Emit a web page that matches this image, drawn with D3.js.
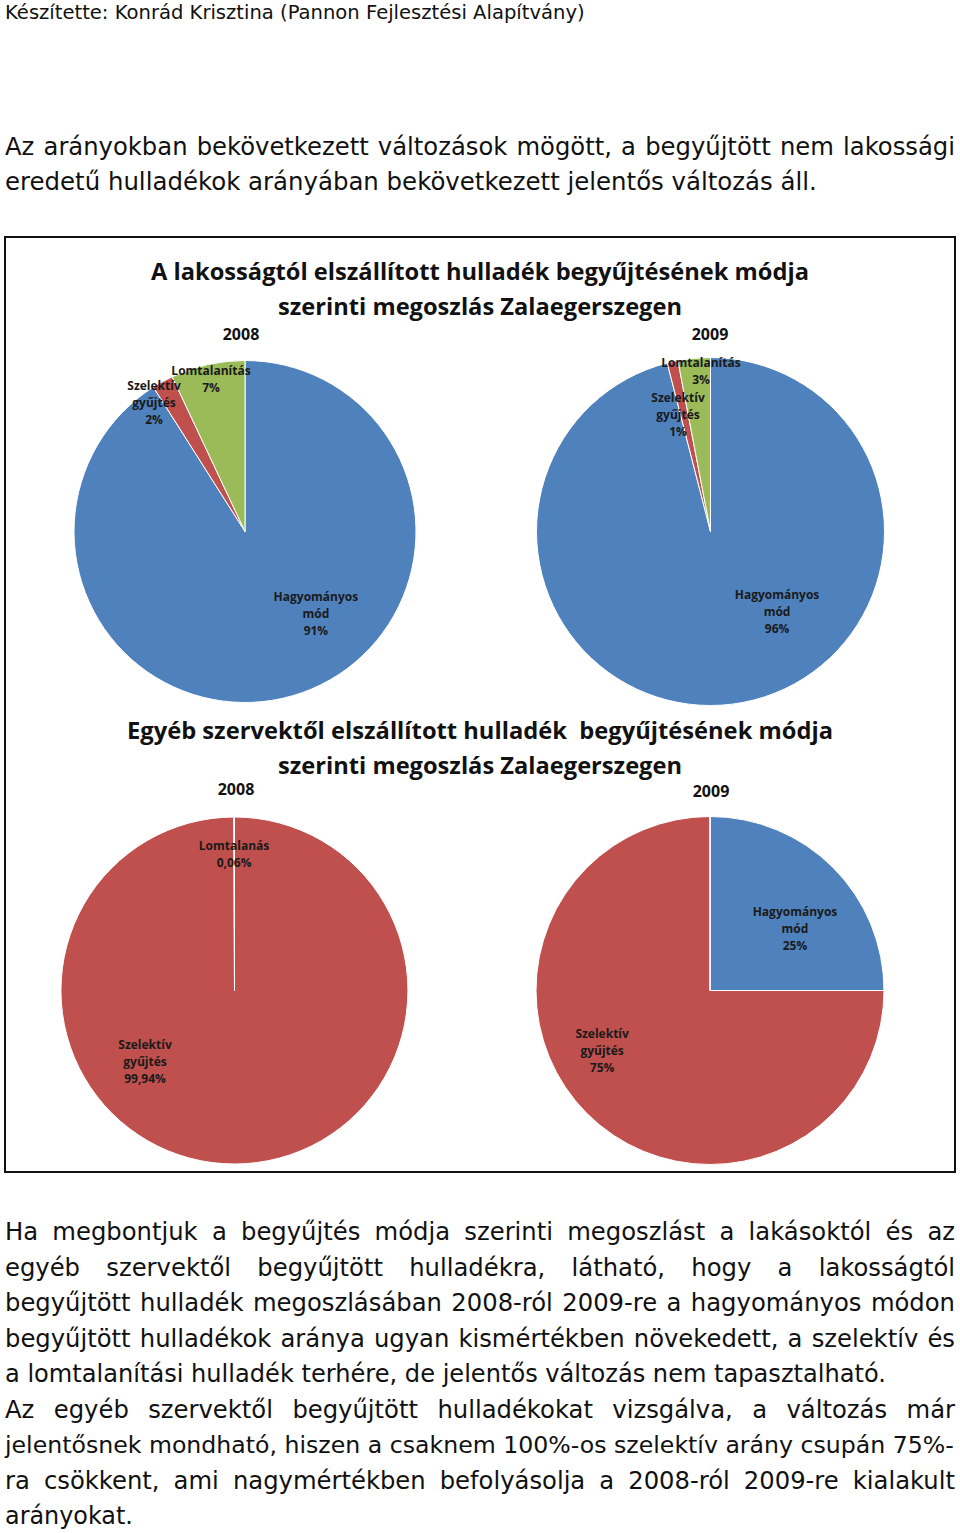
<!DOCTYPE html>
<html>
<head>
<meta charset="utf-8">
<script src="https://cdn.jsdelivr.net/npm/d3@7"></script>
<style>
  html, body { margin: 0; padding: 0; background: #fff; }
  svg { display: block; }
</style>
</head>
<body>
<script>
// ---------------- DATA ----------------
const categories = ["Hagyományos mód", "Szelektív gyűjtés", "Lomtalanítás"];
const categoryLabelLines = [["Hagyományos", "mód"], ["Szelektív", "gyűjtés"], ["Lomtalanítás"]];
const years = ["2008", "2009"];
const lakossag2008 = [91, 2, 7];
const lakossag2009 = [96, 1, 3];
const egyeb2008 = [0, 99.94, 0.06];
const egyeb2009 = [25, 75, 0];
const egyeb2008LomtalLabel = ["Lomtalanás"];

const headerText = "Készítette: Konrád Krisztina (Pannon Fejlesztési Alapítvány)";
const para1 = [
  "Az arányokban bekövetkezett változások mögött, a begyűjtött nem lakossági",
  "eredetű hulladékok arányában bekövetkezett jelentős változás áll."
];
const para2 = [
  "Ha megbontjuk a begyűjtés módja szerinti megoszlást a lakásoktól és az",
  "egyéb szervektől begyűjtött hulladékra, látható, hogy a lakosságtól",
  "begyűjtött hulladék megoszlásában 2008-ról 2009-re a hagyományos módon",
  "begyűjtött hulladékok aránya ugyan kismértékben növekedett, a szelektív és",
  "a lomtalanítási hulladék terhére, de jelentős változás nem tapasztalható.",
  "Az egyéb szervektől begyűjtött hulladékokat vizsgálva, a változás már",
  "jelentősnek mondható, hiszen a csaknem 100%-os szelektív arány csupán 75%-",
  "ra csökkent, ami nagymértékben befolyásolja a 2008-ról 2009-re kialakult",
  "arányokat."
];
const chartTitle1 = ["A lakosságtól elszállított hulladék begyűjtésének módja", "szerinti megoszlás Zalaegerszegen"];
const chartTitle2 = ["Egyéb szervektől elszállított hulladék  begyűjtésének módja", "szerinti megoszlás Zalaegerszegen"];

// ---------------- LAYOUT / STYLE ----------------
const W = 960, H = 1533;
const colors = ["#4F81BD", "#C0504D", "#9BBB59"];
const bodyFont = "'DejaVu Sans', sans-serif";
const chartFont = "'Open Sans', 'Noto Sans', sans-serif";

const para1Layout = { y0: 155, lh: 35, widths: [950, 812], justify: [true, false] };
const para2Layout = { y0: 1240, lh: 35.5,
  widths: [950, 950, 950, 950, 882, 950, 950, 950, 129],
  justify: [true, true, true, true, false, true, true, true, false] };

const pies = [
  { values: lakossag2008, year: years[0], cx: 245, cy: 531.5, r: 171, yearPos: [241, 340],
    labelPos: [[139.3, 0.636], [324.7, 0.921], [347.4, 0.911]] },
  { values: lakossag2009, year: years[1], cx: 710.5, cy: 531.5, r: 174, yearPos: [710, 340],
    labelPos: [[140.4, 0.60], [344.4, 0.695], [356.6, 0.921]] },
  { values: egyeb2008, year: years[0], cx: 234.5, cy: 990.5, r: 173.5, yearPos: [236, 795],
    labelPos: [[0, 0], [231.4, 0.66], [359.8, 0.784]], lomtal: egyeb2008LomtalLabel },
  { values: egyeb2009, year: years[1], cx: 710, cy: 990.5, r: 174, yearPos: [711, 797],
    labelPos: [[54.1, 0.603], [240.7, 0.711], [0, 0]] }
];

const svg = d3.select("body").append("svg").attr("width", W).attr("height", H);

// Header
{
  const t = svg.append("text")
    .attr("x", 5).attr("y", 19)
    .attr("font-family", bodyFont).attr("font-size", 16).attr("fill", "#111")
    .text(headerText);
  const w = t.node().getComputedTextLength();
  t.attr("font-size", 16 * 580 / w);
}

function measure(str, fs) {
  const t = svg.append("text").attr("font-family", bodyFont).attr("font-size", fs)
    .attr("xml:space", "preserve").text(str);
  const w = t.node().getComputedTextLength();
  t.remove();
  return w;
}
const refLines = [[para1[1], 812], [para2[4], 882]];
const scales = refLines.map(([s, w]) => w / measure(s, 20));
const bodySize = 20 * d3.mean(scales);

function drawPara(lines, layout) {
  lines.forEach((line, i) => {
    const t = svg.append("text")
      .attr("x", 5)
      .attr("y", layout.y0 + i * layout.lh)
      .attr("font-family", bodyFont).attr("font-size", bodySize).attr("fill", "#111")
      .attr("xml:space", "preserve")
      .text(line);
    const nat = t.node().getComputedTextLength();
    const target = layout.widths[i];
    const extra = target - nat;
    const spaces = (line.match(/ /g) || []).length;
    if (extra < 0) {
      // too long: shrink the font so the line fits the column
      t.attr("font-size", bodySize * (target - 1) / nat);
    } else if (layout.justify[i] && spaces > 0) {
      t.attr("word-spacing", extra / spaces);
    } else if (!layout.justify[i]) {
      t.attr("font-size", bodySize * target / nat);
    }
  });
}
drawPara(para1, para1Layout);
drawPara(para2, para2Layout);

// Chart frame
svg.append("rect")
  .attr("x", 5).attr("y", 237).attr("width", 950).attr("height", 935)
  .attr("fill", "#fff").attr("stroke", "#111").attr("stroke-width", 2);

function drawTitle(lines, ys, widths) {
  svg.append("g").selectAll("text").data(lines).join("text")
    .attr("x", 480).attr("y", (d, i) => ys[i])
    .attr("text-anchor", "middle")
    .attr("font-family", chartFont).attr("font-weight", "bold").attr("font-size", 23).attr("fill", "#111")
    .attr("textLength", (d, i) => widths[i]).attr("lengthAdjust", "spacingAndGlyphs")
    .attr("xml:space", "preserve")
    .text(d => d);
}
drawTitle(chartTitle1, [280, 315], [658, 404]);
drawTitle(chartTitle2, [739, 774], [706, 404]);

const pieGen = d3.pie().sort(null).value(d => d);
const fmt = v => (Number.isInteger(v) ? d3.format("d")(v) : d3.format(".2f")(v)).replace(".", ",") + "%";
const toRad = Math.PI / 180;

pies.forEach(p => {
  const g = svg.append("g").attr("transform", `translate(${p.cx},${p.cy})`);
  const arc = d3.arc().innerRadius(0).outerRadius(p.r);
  const arcs = pieGen(p.values);
  g.selectAll("path").data(arcs).join("path")
    .attr("d", arc)
    .attr("fill", (d, i) => colors[i])
    .attr("stroke", "#fff").attr("stroke-width", 1);

  svg.append("text")
    .attr("x", p.yearPos[0]).attr("y", p.yearPos[1])
    .attr("text-anchor", "middle")
    .attr("font-family", chartFont).attr("font-weight", "bold").attr("font-size", 16).attr("fill", "#111")
    .text(p.year);

  arcs.forEach((a, i) => {
    if (a.data <= 0) return;
    const [ang, rf] = p.labelPos[i];
    const lx = Math.sin(ang * toRad) * rf * p.r;
    const ly = -Math.cos(ang * toRad) * rf * p.r;
    const nameLines = (i === 2 && p.lomtal) ? p.lomtal : categoryLabelLines[i];
    const lines = nameLines.concat([fmt(a.data)]);
    const lh = 17, fs = 12;
    const t = g.append("text")
      .attr("text-anchor", "middle")
      .attr("font-family", chartFont).attr("font-weight", "bold").attr("font-size", fs)
      .attr("fill", "#1a1a1a");
    lines.forEach((ln, k) => {
      t.append("tspan")
        .attr("x", lx)
        .attr("y", ly + (k - (lines.length - 1) / 2) * lh + fs * 0.35)
        .text(ln);
    });
  });
});
</script>
</body>
</html>
